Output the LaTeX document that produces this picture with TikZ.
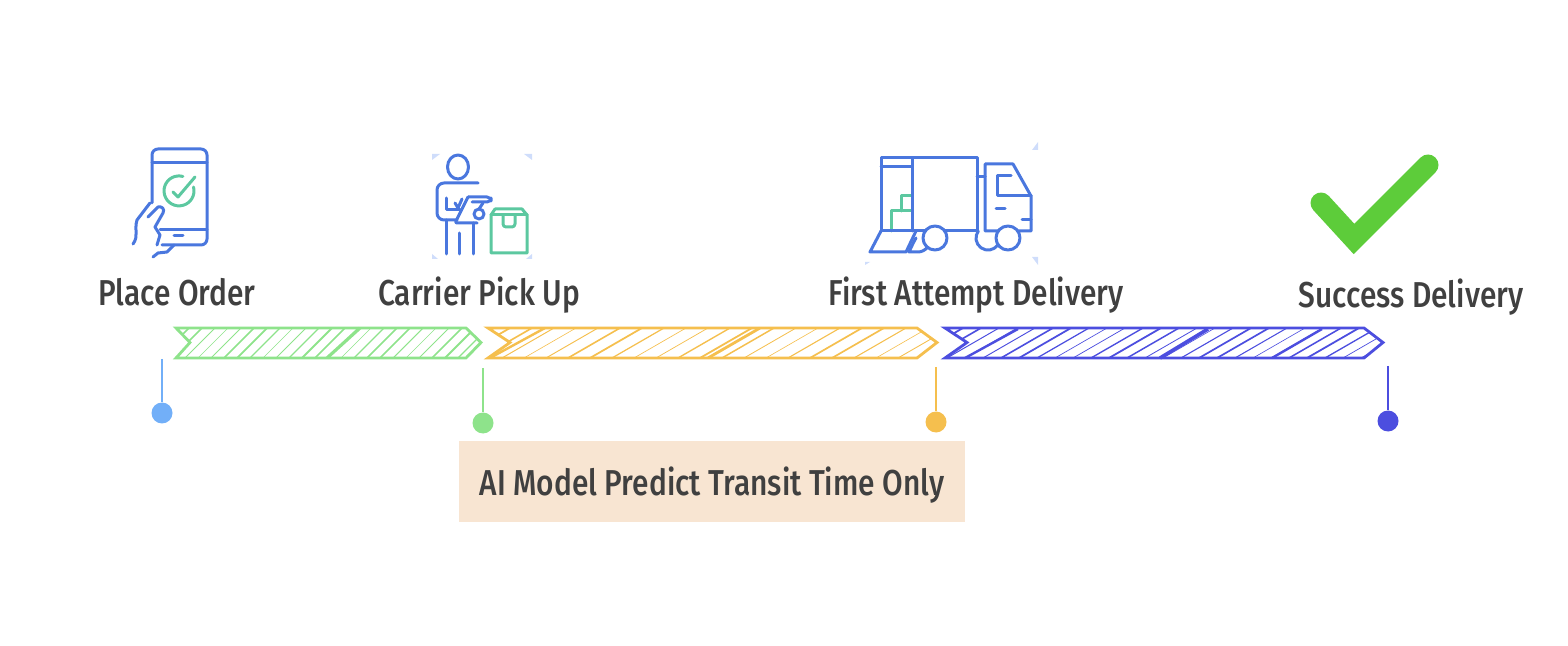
\documentclass[tikz,border=0pt]{standalone}
\usepackage{fontspec}
\setmainfont{Fira Sans Medium}[FakeStretch=0.83]
\definecolor{barGreen}{HTML}{8EE38B}
\definecolor{barOrange}{HTML}{F5BF4E}
\definecolor{barBlue}{HTML}{4C4EDF}
\definecolor{dotBlue}{HTML}{72AFF8}
\definecolor{iconBlue}{HTML}{4A77DE}
\definecolor{iconGreen}{HTML}{5CC8A0}
\definecolor{iconCorner}{HTML}{CFDDFB}
\definecolor{checkGreen}{HTML}{5DCC3A}
\definecolor{boxPeach}{HTML}{F8E5D2}
\definecolor{labelGrey}{HTML}{404040}
\tikzset{label style/.style = {%
  font = \fontsize{18}{20}\selectfont,
  text = labelGrey,
  inner sep = 0pt,
  anchor = base
 },
 dot style/.style = {%
  shape = circle,
  inner sep = 0pt,
  minimum size = 10.5pt,
  fill = #1
 },
 stem style/.style = {%
  line width = 1.2pt,
  draw = #1
 },
 icon line/.style = {%
  draw = iconBlue,
  line width = 1.5pt,
  line cap = round,
  line join = round
 },
 icon green/.style = {%
  icon line,
  draw = iconGreen
 },
 corner style/.style = {%
  fill = iconCorner
 }
}
% colour, left x, notch x, shoulder x, tip x, slant of hatch, spacing
\newcommand{\hatchbar}[7]{%
  \begin{scope}
    \clip (#2,328) -- (#4,328) -- (#5,342.5) -- (#4,358) -- (#2,358) -- (#3,342.5) -- cycle;
    \foreach \k [evaluate=\k as \x using #2-#6+#7*\k] in {0,...,38}
      \draw[#1,line width={(0.6+0.3*sin(\k*67))*1pt}] (\x,358) -- ++(#6,-30);
  \end{scope}
  \draw[#1,line width=1.4pt,line join=miter] (#2,328) -- (#4,328) -- (#5,342.5) -- (#4,358) -- (#2,358) -- (#3,342.5) -- cycle;
}
\begin{document}
\begin{tikzpicture}[x=0.5pt,y=-0.5pt]
  \useasboundingbox (0,0) rectangle (1568,646);

  % bars
  \hatchbar{barGreen}{176}{190}{466}{481}{30}{13}
  \draw[barGreen,line width=1.6pt] (327,358) -- (360,328);
  \hatchbar{barOrange}{488}{510}{917}{937}{52}{22}
  \draw[barOrange,line width=1.4pt] (708,358) -- (760,328);
  \draw[barOrange,line width=1.2pt] (490,358) -- (545,328);
  \hatchbar{barBlue}{945}{967}{1364}{1383}{52}{18}
  \draw[barBlue,line width=1.8pt] (1160,358) -- (1208,329);
  \draw[barBlue,line width=1.2pt] (1272,358) -- (1322,329);
  \draw[barBlue,line width=1.2pt] (965,358) -- (1018,329);

  % labels
  \node[label style] (placeOrder) at (177,306) {Place Order};
  \node[label style] (carrierPickUp) at (479,306) {Carrier Pick Up};
  \node[label style] (firstAttempt) at (976,306) {First Attempt Delivery};
  \node[label style] (successDelivery) at (1411,308) {Success Delivery};

  % stems and dots
  \coordinate (stemA) at (162,359);
  \coordinate (stemB) at (483,368);
  \coordinate (stemC) at (936,367);
  \coordinate (stemD) at (1388,366);
  \node[dot style=dotBlue] (dotA) at (162,413) {};
  \node[dot style=barGreen] (dotB) at (483,423) {};
  \node[dot style=barOrange] (dotC) at (936,422) {};
  \node[dot style=barBlue] (dotD) at (1388,421) {};
  \draw[stem style=dotBlue] (stemA) -- (dotA);
  \draw[stem style=barGreen] (stemB) -- (dotB);
  \draw[stem style=barOrange] (stemC) -- (dotC);
  \draw[stem style=barBlue] (stemD) -- (dotD);

  % model box
  \node[label style,anchor=center,text depth=0pt,fill=boxPeach,minimum width=253pt,minimum height=40.5pt] (modelBox) at (712,481.5) {AI Model Predict Transit Time Only};

  % phone
  \draw[icon line,rounded corners=3pt] (152,203) -- (152,149) -- (207,149) -- (207,245) -- (162,245);
  \draw[icon line] (152,163) -- (207,163);
  \draw[icon line] (160,230) -- (207,230);
  \draw[icon line] (174,236) -- (183,236);
  \draw[icon green] (193.5,187) arc[start angle=-15,end angle=285,radius=15];
  \draw[icon green] (173,192) -- (178,197) -- (195,177);
  \draw[icon line] (133,244) .. controls (139,236) and (134,230) .. (137,220) -- (150,203);
  \draw[icon line] (148,217) -- (158,207) .. controls (162,206) and (165,209) .. (163,213) -- (155,227) -- (160,235) -- (157,245);
  \draw[icon line] (153,257) -- (158,253) -- (167,252) -- (174,245);

  % person
  \draw[icon line] (458,167) ellipse (10.5 and 12);
  \draw[icon line,rounded corners=3.5pt] (457,220) -- (437,220) -- (437,183) -- (478,183);
  \draw[icon line] (446,198) -- (446,210) -- (460,210);
  \draw[icon line] (455,203) -- (458,208) -- (462,199);
  \draw[icon line,rounded corners=1pt] (468,197) -- (455,223) -- (477,223);
  \draw[icon line,rounded corners=2pt] (468,197) -- (491,197) -- (491,202) -- (472,202);
  \draw[icon line] (483,203) -- (479,209);
  \draw[icon line] (479,214) circle (5);
  \draw[icon line] (446,220) -- (446,254);
  \draw[icon line] (459,233) -- (459,254);
  \draw[icon line] (473,223) -- (473,254);
  \draw[icon green] (491,215) -- (491,253) -- (527,253) -- (527,215) -- (522,209) -- (495,209) -- cycle;
  \draw[icon green] (491,215) -- (527,215);
  \draw[icon green,rounded corners=1.5pt] (503,215) -- (503,227) -- (515,227) -- (515,215);
  \foreach \cx/\cy/\dx/\dy in {432/154/8/6,532/154/-8/6,432/259/6/-5,532/259/-6/-5}
    \fill[corner style] (\cx,\cy) -- ++(\dx,0) -- ++(-\dx,\dy) -- cycle;

  % truck
  \draw[icon green] (891,231) -- (891,211) -- (912,211);
  \draw[icon green] (901,211) -- (901,196) -- (912,196);
  \draw[icon line] (881,231) -- (881,158) -- (977,158) -- (977,231) -- (881,231);
  \draw[icon line] (912,158) -- (912,231);
  \draw[icon line] (881,167) -- (912,167);
  \draw[icon line] (977,177) -- (985,177);
  \draw[icon line] (985,231) -- (985,164) -- (1013,164) -- (1031,196) -- (1031,231) -- cycle;
  \draw[icon line] (1011,176) -- (997,176) -- (997,196) -- (1031,196);
  \draw[icon line] (996,209) -- (1005,209);
  \draw[icon line] (1022,220) -- (1031,220);
  \draw[icon line] (881,231) -- (870,252) -- (906,252) -- (916,231);
  \draw[icon line] (916,238) .. controls (913,243) and (911,248) .. (909,252) -- (918,252) .. controls (922,252) and (925,250) .. (928,247);
  \draw[icon line] (978.3,231) arc[start angle=216,end angle=-36,radius=12];
  \draw[icon line,fill=white] (935,238) circle (12);
  \draw[icon line,fill=white] (1008,238) circle (12);
  \foreach \cx/\cy/\dx/\dy in {1038/142/-6/8,1038/265/-6/-8,865/265/5/-3}
    \fill[corner style] (\cx,\cy) -- ++(\dx,\dy) -- ++(-\dx,0) -- cycle;

  % check
  \draw[checkGreen,line width=10.5pt,line cap=round,line join=miter] (1321,203) -- (1354,239) -- (1428,165);
\end{tikzpicture}
\end{document}
